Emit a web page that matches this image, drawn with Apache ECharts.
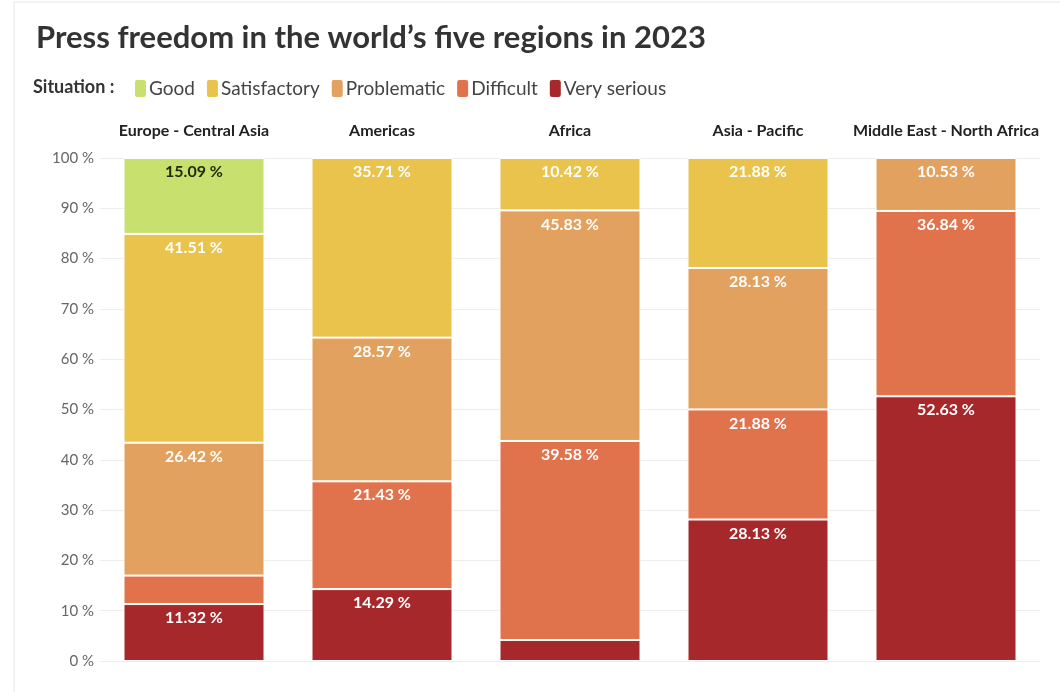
<!DOCTYPE html>
<html>
<head>
<meta charset="utf-8">
<script src="https://cdn.jsdelivr.net/npm/echarts@6/dist/echarts.min.js"></script>
<style>
html,body{margin:0;padding:0;background:#fff;}
#chart{width:1060px;height:692px;}
</style>
</head>
<body>
<div id="chart"></div>
<script>
const regions = ['Europe - Central Asia', 'Americas', 'Africa', 'Asia - Pacific', 'Middle East - North Africa'];
const situations = ['Good', 'Satisfactory', 'Problematic', 'Difficult', 'Very serious'];
const good = [15.09, null, null, null, null];
const satisfactory = [41.51, 35.71, 10.42, 21.88, null];
const problematic = [26.42, 28.57, 45.83, 28.13, 10.53];
const difficult = [5.66, 21.43, 39.58, 21.88, 36.84];
const verySerious = [11.32, 14.29, 4.17, 28.13, 52.63];
const yTicks = [0, 10, 20, 30, 40, 50, 60, 70, 80, 90, 100];

const colors = {
  'Good': '#c8e06e',
  'Satisfactory': '#e9c34b',
  'Problematic': '#e3a15f',
  'Difficult': '#e0724c',
  'Very serious': '#a6282b'
};
const valuesBy = {
  'Good': good, 'Satisfactory': satisfactory, 'Problematic': problematic,
  'Difficult': difficult, 'Very serious': verySerious
};
const FONT = 'Lato';
const stackOrder = ['Very serious', 'Difficult', 'Problematic', 'Satisfactory', 'Good'];

const series = stackOrder.map(name => ({
  name: name,
  type: 'bar',
  stack: 'total',
  barWidth: '75%',
  data: valuesBy[name],
  itemStyle: { color: colors[name], borderColor: '#fff', borderWidth: 1 },
  label: {
    show: true,
    position: 'insideTop',
    distance: 6,
    fontFamily: FONT,
    fontWeight: 'bold',
    fontSize: 16,
    color: name === 'Good' ? '#1b2a0c' : '#fff',
    formatter: p => (p.value == null || p.value < 6) ? '' : p.value.toFixed(2) + ' %'
  }
}));

const chart = echarts.init(document.getElementById('chart'));
chart.setOption({
  animation: false,
  backgroundColor: '#fff',
  textStyle: { fontFamily: FONT },
  title: {
    text: 'Press freedom in the world\u2019s five regions in 2023',
    left: 31, top: 17,
    textStyle: { fontFamily: FONT, fontWeight: 'bold', fontSize: 31, color: '#333' }
  },
  graphic: [{
    type: 'text', left: 33, top: 78,
    style: { text: 'Situation :', font: 'bold 18px Lato', fill: '#333' }
  }, {
    type: 'rect', shape: { x: 14, y: 2, width: 1060, height: 700 },
    style: { fill: 'none', stroke: '#e6e6e6', lineWidth: 1 }, silent: true
  }],
  legend: {
    data: situations,
    left: 128, top: 73,
    icon: 'roundRect',
    itemWidth: 13, itemHeight: 19, itemGap: 10,
    textStyle: { fontFamily: FONT, fontSize: 19, color: '#444', padding: [0, 0, 0, -3] }
  },
  grid: { left: 100, right: 20, top: 158, bottom: 31 },
  xAxis: {
    type: 'category',
    position: 'top',
    data: regions,
    axisLine: { show: false },
    axisTick: { show: false },
    axisLabel: { interval: 0, fontFamily: FONT, fontWeight: 'bold', fontSize: 16, color: '#222', margin: 19 }
  },
  yAxis: {
    type: 'value',
    min: 0, max: 100, interval: 10,
    axisLabel: { fontFamily: FONT, fontSize: 15, color: '#666', margin: 6,
      formatter: v => yTicks.includes(v) ? v + ' %' : '' },
    splitLine: { lineStyle: { color: '#ececec' } }
  },
  series: series
});
</script>
</body>
</html>
